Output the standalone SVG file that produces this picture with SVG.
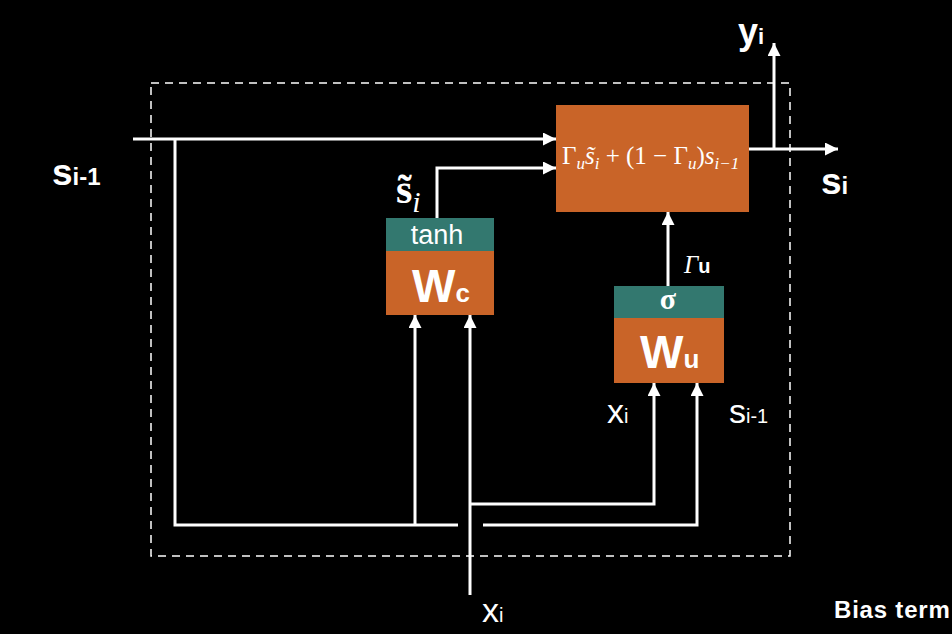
<svg xmlns="http://www.w3.org/2000/svg" width="952" height="634" viewBox="0 0 952 634">
<defs>
<marker id="arr" viewBox="0 0 10 10" refX="10" refY="5" markerWidth="13" markerHeight="13" markerUnits="userSpaceOnUse" orient="auto">
<path d="M0,0 L10,5 L0,10 z" fill="#fff"/>
</marker>
<style>
.ln{fill:none;stroke:#fff;stroke-width:3}
.ar{marker-end:url(#arr)}
.or{fill:#C96428}
.tl{fill:#33786F}
.sans{font-family:"Liberation Sans",Arial,sans-serif;fill:#fff}
.ser{font-family:"Liberation Serif","Times New Roman",serif;fill:#fff}
.b{font-weight:bold}
</style>
</defs>
<rect width="952" height="634" fill="#000"/>
<rect x="151" y="83" width="639" height="473" fill="none" stroke="#fff" stroke-width="1.5" stroke-dasharray="8,6"/>

<g id="connectors">
<path class="ln ar" d="M133,139 H556"/>
<path class="ln" d="M175,139 V525 H458"/>
<path class="ln ar" d="M483,525 H697 V383"/>
<path class="ln ar" d="M415,525 V315"/>
<path class="ln ar" d="M470,595 V315"/>
<path class="ln ar" d="M470,504 H654 V383"/>
<path class="ln ar" d="M437,218 V168 H556"/>
<path class="ln ar" d="M749,149 H838"/>
<path class="ln ar" d="M774,149 V43"/>
<path class="ln ar" d="M668,286 V212"/>
</g>

<g id="update">
<rect class="or" x="556" y="105" width="193" height="107"/>
<text class="ser" x="562" y="164" font-size="25">Γ<tspan font-style="italic" font-size="17" dy="5">u</tspan><tspan font-style="italic" dy="-5">s̃</tspan><tspan font-style="italic" font-size="17" dy="5">i</tspan><tspan dy="-5"> + (1 − Γ</tspan><tspan font-style="italic" font-size="17" dy="5">u</tspan><tspan dy="-5">)</tspan><tspan font-style="italic">s</tspan><tspan font-style="italic" font-size="17" dy="5">i−1</tspan></text>
</g>

<g id="wc">
<rect class="tl" x="386" y="218" width="108" height="33"/>
<rect class="or" x="386" y="251" width="108" height="64"/>
<text class="sans" x="437" y="244" font-size="27" text-anchor="middle">tanh</text>
<text class="sans b" x="412" y="302" font-size="46">W<tspan font-size="26">c</tspan></text>
</g>

<g id="wu">
<rect class="tl" x="614" y="286" width="110" height="32"/>
<rect class="or" x="614" y="318" width="110" height="65"/>
<text class="ser b" x="668" y="309" font-size="30" text-anchor="middle">σ</text>
<text class="sans b" x="640" y="368" font-size="46">W<tspan font-size="26">u</tspan></text>
</g>

<g id="labels">
<text class="sans b" x="52" y="185" font-size="37">s<tspan font-size="24">i-1</tspan></text>
<text class="sans b" x="821" y="194" font-size="37">s<tspan font-size="24">i</tspan></text>
<text class="sans b" x="738" y="44" font-size="36">y<tspan font-size="22">i</tspan></text>
<text class="ser b" x="396" y="203" font-size="42">s̃<tspan font-style="italic" font-weight="normal" font-size="30" dy="9">i</tspan></text>
<text class="ser" x="684" y="273" font-size="25" font-style="italic">Γ<tspan class="sans b" font-style="normal" font-size="20">u</tspan></text>
<text class="sans" x="607" y="423" font-size="34">x<tspan font-size="20">i</tspan></text>
<text class="sans" x="729" y="423" font-size="34">s<tspan font-size="20">i-1</tspan></text>
<text class="sans" x="482" y="622" font-size="34">x<tspan font-size="20">i</tspan></text>
<text class="sans b" x="834" y="618" font-size="24" letter-spacing="0.8">Bias term</text>
</g>
</svg>
